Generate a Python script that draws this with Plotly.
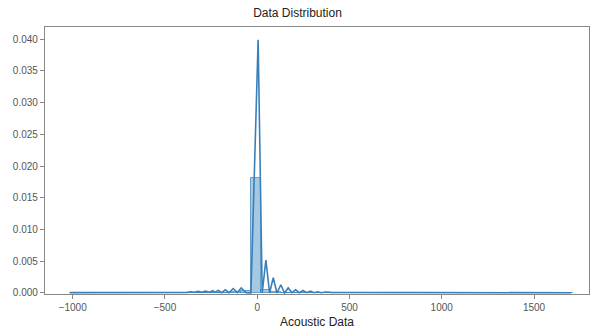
import plotly.graph_objects as go

# Histogram (density) bins: left edges, width, heights
bin_width = 54.5
bin_left = [-1015 + i * bin_width for i in range(50)]
bin_height = [0.00001] * 50
bin_height[16] = 0.0001
bin_height[17] = 0.0003
bin_height[18] = 0.0181
bin_height[19] = 0.0005
bin_height[20] = 0.0001

# KDE curve (x, density)
kde_x = [-1015, -800, -600, -500, -450, -420, -400, -380, -360, -340, -320, -300, -280, -260, -240, -230,
         -211, -192, -173, -152, -130, -108, -87, -60, -34,
         5, 27, 47, 67, 87, 107, 128, 148, 168, 188, 208, 228, 248, 268, 288, 308, 328, 348, 368,
         400, 450, 500, 600, 800, 1000, 1200, 1400, 1600, 1700]
kde_y = [0.00005, 0.00005, 0.00007, 0.0001, 0.00012, 0.0001, 0.00015, 0.0001, 0.0002, 0.0001, 0.00025, 0.0001, 0.0003, 0.0001, 0.00035, 0.0001,
         0.0004, 0.00005, 0.0005, 0.00005, 0.0007, 0.00005, 0.0008, 0.00005, 0.0,
         0.0399, 0.0, 0.0052, 0.0, 0.0024, 0.0, 0.0013, 0.0, 0.0008, 0.00005, 0.0005, 0.00005, 0.0004, 0.00005, 0.0003, 0.00005, 0.0002, 0.00005, 0.00015,
         0.0001, 0.0001, 0.00008, 0.00006, 0.00005, 0.00005, 0.00005, 0.00005, 0.00005, 0.00003]

x_ticks = [-1000, -500, 0, 500, 1000, 1500]
y_ticks = [0.000, 0.005, 0.010, 0.015, 0.020, 0.025, 0.030, 0.035, 0.040]

fig = go.Figure()
fig.add_trace(go.Bar(
    x=[l + bin_width / 2 for l in bin_left], y=bin_height, width=bin_width,
    marker=dict(color="rgba(31,119,180,0.4)", line=dict(color="rgba(31,119,180,0.6)", width=1)),
    showlegend=False,
))
fig.add_trace(go.Scatter(
    x=kde_x, y=kde_y, mode="lines",
    line=dict(color="#3b7fb8", width=1.6), showlegend=False,
))

axis_common = dict(
    showgrid=False, zeroline=False, showline=True, linecolor="#888888", linewidth=1.2,
    mirror=True, ticks="outside", ticklen=4, tickcolor="#888888",
    tickfont=dict(family="Liberation Sans, Arial, sans-serif", size=10, color="#555555"),
)
fig.update_layout(
    width=595, height=331,
    margin=dict(l=45, r=5, t=27, b=34),
    paper_bgcolor="white", plot_bgcolor="white",
    bargap=0,
    title=dict(text="Data Distribution", x=0.5, xanchor="center", y=1 - 13 / 331, yanchor="middle",
               font=dict(family="Liberation Sans, Arial, sans-serif", size=12, color="#222222")),
    xaxis=dict(range=[-1150, 1798], tickvals=x_ticks, ticktext=["\u22121000", "\u2212500", "0", "500", "1000", "1500"],
               title=dict(text="Acoustic Data", standoff=5,
                          font=dict(family="Liberation Sans, Arial, sans-serif", size=12, color="#222222")),
               **axis_common),
    yaxis=dict(range=[-0.00016, 0.0419], tickvals=y_ticks, ticktext=[f"{v:.3f}" for v in y_ticks],
               **axis_common),
)

fig.write_html("out.html")
